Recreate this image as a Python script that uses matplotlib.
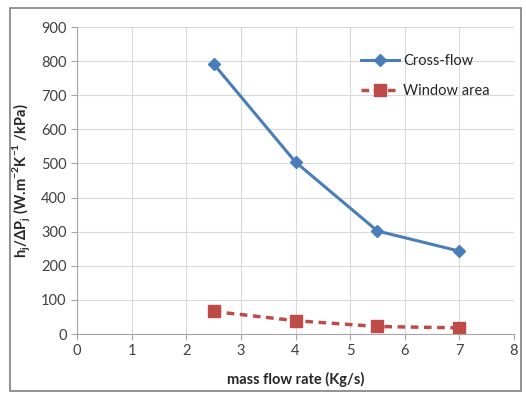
import matplotlib
matplotlib.use("Agg")
import matplotlib.pyplot as plt
from matplotlib.patches import Rectangle

plt.rcParams['font.family'] = ['Lato', 'DejaVu Sans']

x_vals = [2.5, 4, 5.5, 7]
cross_flow = [792, 504, 302, 243]
window_area = [66, 39, 22, 18]
x_ticks = [0, 1, 2, 3, 4, 5, 6, 7, 8]
y_ticks = [0, 100, 200, 300, 400, 500, 600, 700, 800, 900]

fig = plt.figure(figsize=(5.26, 4.03), dpi=100)
ax = fig.add_axes([77/526, 1-334/403, (514-77)/526, (334-27)/403])

ax.plot(x_vals, cross_flow, color='#4a7ebb', lw=2.2, marker='D', ms=6, label='Cross-flow')
ax.plot(x_vals, window_area, color='#be4b48', lw=2.5, ls=(0, (2.2, 1.6)), marker='s', ms=9, label='Window area')

ax.set_xlim(0, 8)
ax.set_ylim(0, 900)
ax.set_xticks(x_ticks)
ax.set_yticks(y_ticks)
ax.grid(True, color='#d9d9d9', lw=0.8)
ax.set_axisbelow(True)
for s in ['top', 'right']:
    ax.spines[s].set_visible(False)
for s in ['left', 'bottom']:
    ax.spines[s].set_color('#a6a6a6')
ax.tick_params(axis='both', colors='#a6a6a6', labelcolor='#404040', labelsize=10.5, length=4)
ax.set_xlabel('mass flow rate (Kg/s)', fontsize=10.5, fontweight='bold', color='#262626', labelpad=10)
ax.set_ylabel(r'h$_\mathregular{j}$/ΔP$_\mathregular{j}$ (W.m$^\mathregular{-2}$K$^\mathregular{-1}$ /kPa)',
              fontsize=10.5, fontweight='bold', color='#262626', labelpad=6)
leg = ax.legend(loc='upper right', bbox_to_anchor=(0.975, 0.955), frameon=False, fontsize=10.5,
                handlelength=2.6, handletextpad=0.3, labelspacing=1.1)
for t in leg.get_texts():
    t.set_color('#262626')

fig.patches.append(Rectangle((10/526, 1-391/403), (521-10)/526, (391-8)/403, transform=fig.transFigure,
                             fill=False, edgecolor='#7f7f7f', lw=1.2))
fig.savefig('out.png', dpi=100)
